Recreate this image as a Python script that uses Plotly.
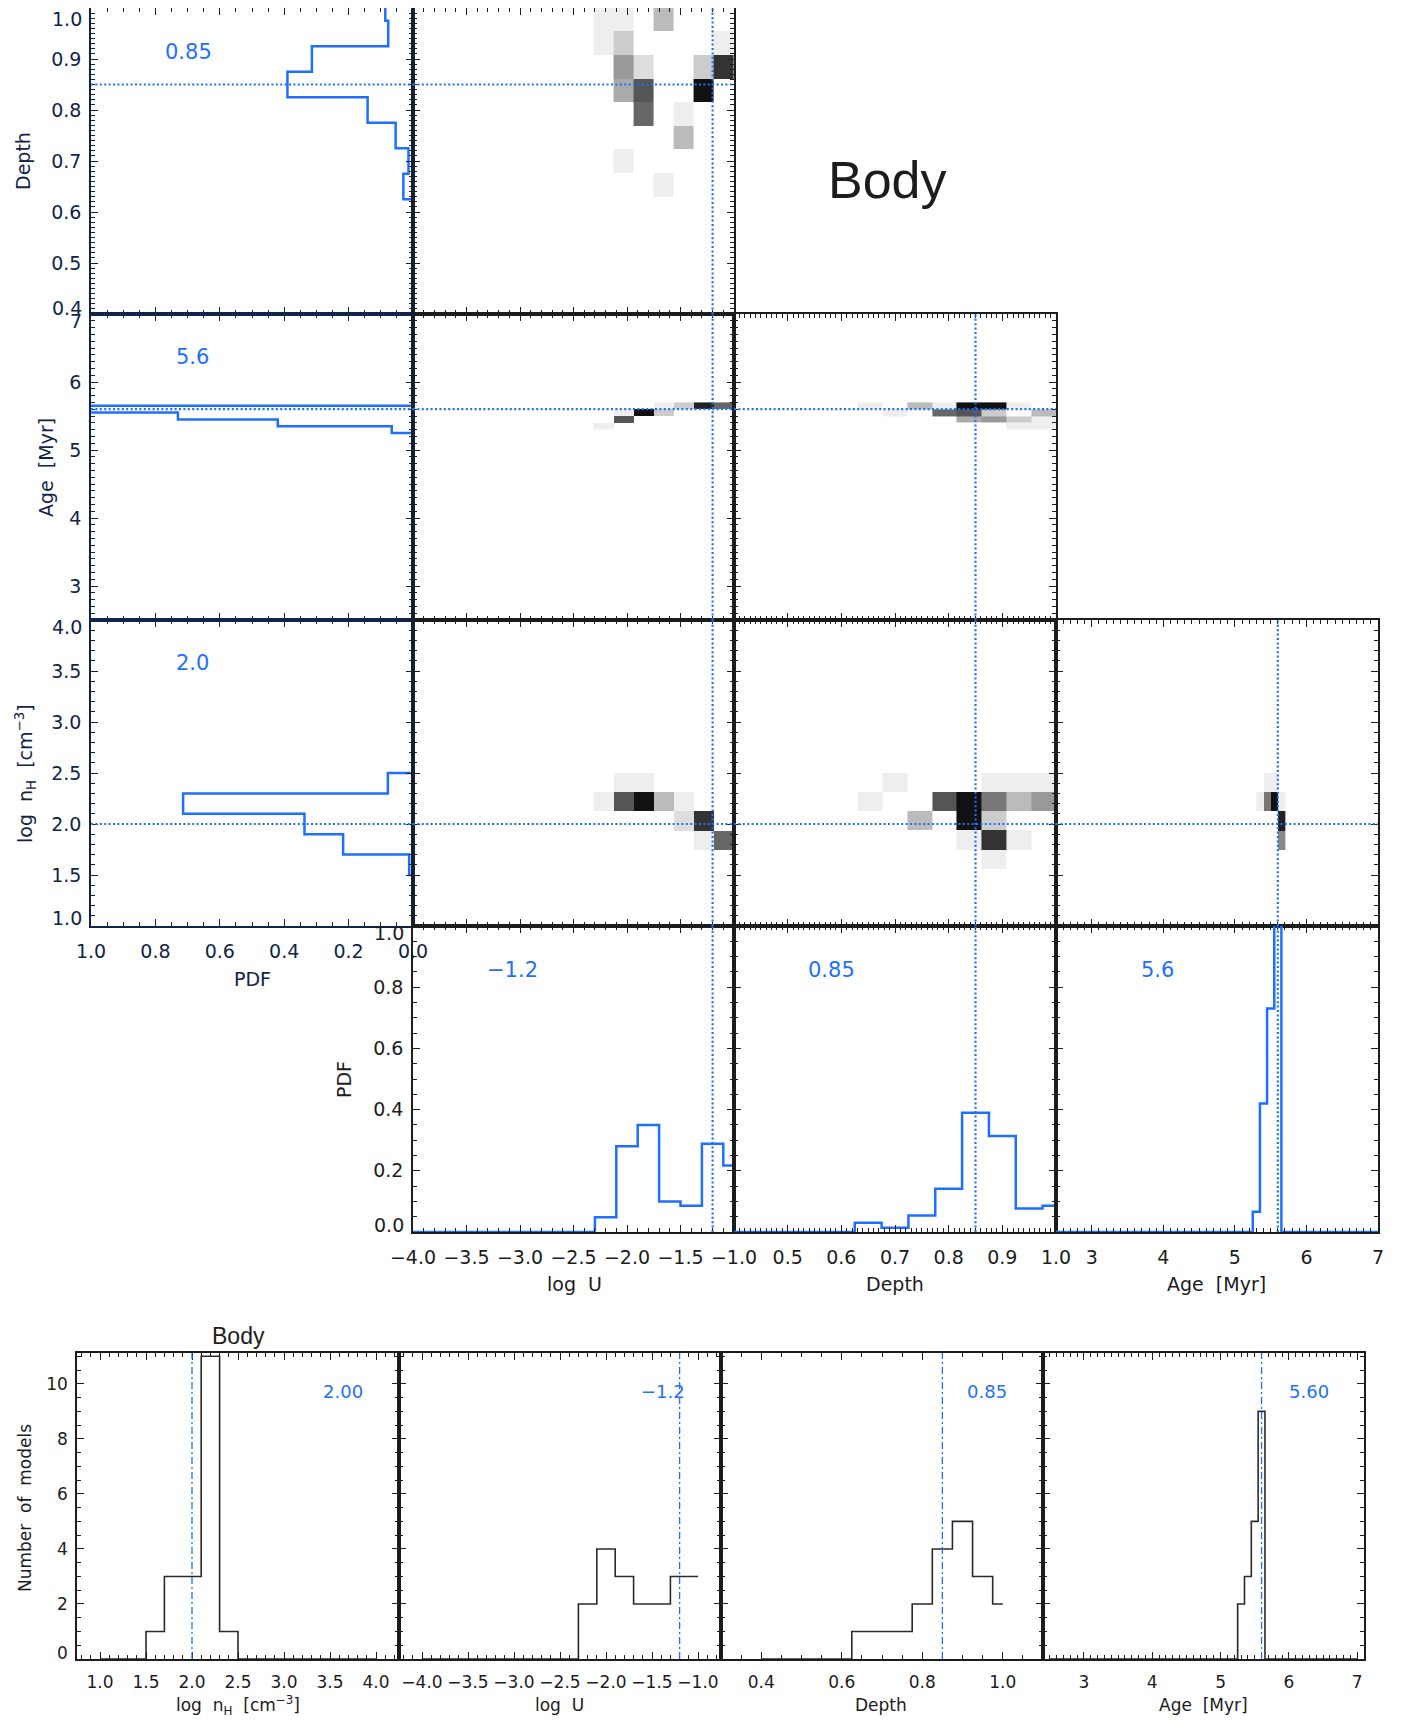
import plotly.graph_objects as go

W, H = 1402, 1722
OFF = 8  # the page body margin shifts the figure; positions below are page pixels

# ---------------- values ----------------
best_nh, best_logu, best_depth, best_age = 2.0, -1.2, 0.85, 5.6

# marginal PDFs: bin centres and values
depth_w, age_w, nh_w, logu_w = 0.05, 0.1, 0.2, 0.2
depth_pdf_c = [0.65, 0.70, 0.75, 0.80, 0.85, 0.90, 0.95, 1.00]
depth_pdf_v = [0.030, 0.014, 0.054, 0.141, 0.390, 0.314, 0.077, 0.086]
age_pdf_c = [5.3, 5.4, 5.5, 5.6]
age_pdf_v = [0.066, 0.420, 0.730, 1.300]          # last bin runs off the axis
nh_pdf_c = [1.6, 1.8, 2.0, 2.2, 2.4]
nh_pdf_v = [0.012, 0.217, 0.337, 0.714, 0.078]
logu_pdf_c = [-2.2, -2.0, -1.8, -1.6, -1.4, -1.2, -1.0]
logu_pdf_v = [0.048, 0.280, 0.350, 0.100, 0.086, 0.288, 0.217]

# number of models per bin
nh_cnt_c = [1.6, 1.8, 2.0, 2.2, 2.4]
nh_cnt = [1, 3, 3, 11, 1]
logu_cnt_c = [-2.2, -2.0, -1.8, -1.6, -1.4, -1.2, -1.0]
logu_cnt = [2, 4, 3, 2, 2, 3, 3]
depth_cnt_c = [0.65, 0.70, 0.75, 0.80, 0.85, 0.90, 0.95, 1.00]
depth_cnt = [1, 1, 1, 2, 4, 5, 3, 2]
age_cnt_c = [5.3, 5.4, 5.5, 5.6]
age_cnt = [2, 3, 5, 9]

# 2D histogram grids (cell edges) and grey levels (0 = white, 1 = black)
logu_edges = [-2.3125, -2.125, -1.9375, -1.75, -1.5625, -1.375, -1.1875, -1.0]
depth_edges = [0.63, 0.676, 0.723, 0.769, 0.815, 0.861, 0.908, 0.954, 1.0]
age_edges = [5.3, 5.4, 5.5, 5.6, 5.7]
nh_edges = [1.5625, 1.75, 1.9375, 2.125, 2.3125, 2.5]

depth_vs_logu = [
    [0, 0, 0, .067, 0, 0, 0],
    [0, .067, 0, 0, 0, 0, 0],
    [0, 0, 0, 0, .267, 0, 0],
    [0, 0, .6, 0, .067, 0, 0],
    [0, .333, .667, 0, 0, .933, 0],
    [0, .4, .133, 0, 0, .2, .8],
    [.067, .2, 0, 0, 0, 0, .067],
    [.067, .067, 0, .267, 0, 0, 0],
]
age_vs_logu = [
    [.067, 0, 0, 0, 0, 0, 0],
    [0, .667, 0, 0, 0, 0, 0],
    [0, .067, .933, .2, 0, 0, 0],
    [0, 0, 0, .067, .2, .867, .6],
]
age_vs_depth = [
    [0, 0, 0, 0, 0, 0, .067, .067],
    [0, 0, 0, 0, .333, .4, .2, .067],
    [0, .067, 0, .6, .667, .2, 0, .267],
    [.067, 0, .267, .067, .933, .933, .067, 0],
]
nh_vs_logu = [
    [0, 0, 0, 0, 0, 0, 0],
    [0, 0, 0, 0, 0, .067, .6],
    [0, 0, 0, 0, .133, .8, 0],
    [.067, .667, .933, .267, .067, 0, 0],
    [0, .067, .067, 0, 0, 0, 0],
]
nh_vs_depth = [
    [0, 0, 0, 0, 0, .067, 0, 0],
    [0, 0, 0, 0, .067, .8, .067, 0],
    [0, 0, .267, 0, .933, .2, 0, 0],
    [.067, 0, 0, .667, .933, .533, .267, .4],
    [0, .067, 0, 0, 0, .067, .067, .067],
]
nh_vs_age = [
    [0, 0, 0, 0],
    [0, 0, 0, .467],
    [0, 0, 0, .867],
    [.067, .533, .933, .067],
    [0, .067, .067, 0],
]

# ---------------- styling ----------------
FONT = "DejaVu Sans"
BLUE = "#1f6fff"
NAVY = "#102449"
INK = "#1c1c1c"

CX = [91, 413, 734, 1056, 1378]
RY = [8, 314, 620, 926, 1232]
BX = [77, 399, 721, 1043, 1364]
BY = [1353, 1659]

KINDS = {
    "pdfrev": dict(range=[1, 0], tick0=0, dtick=0.2, minor=0.05, fmt=".1f"),
    "pdf": dict(range=[0, 1], tick0=0, dtick=0.2, minor=0.05, fmt=".1f"),
    "depth": dict(range=[0.4, 1.0], tick0=0.4, dtick=0.1, minor=0.01, fmt=".1f"),
    "age": dict(range=[2.5, 7], tick0=3, dtick=1, minor=0.1, fmt="d"),
    "nh": dict(range=[1, 4], tick0=1, dtick=0.5, minor=0.1, fmt=".1f"),
    "logu": dict(range=[-4, -1], tick0=-4, dtick=0.5, minor=0.1, fmt=".1f"),
    "nh_b": dict(range=[0.75, 4.25], tick0=1, dtick=0.5, minor=0.1, fmt=".1f"),
    "logu_b": dict(range=[-4.25, -0.75], tick0=-4, dtick=0.5, minor=0.1, fmt=".1f"),
    "depth_b": dict(range=[0.3, 1.1], tick0=0.4, dtick=0.2, minor=0.05, fmt=".1f"),
    "age_b": dict(range=[2.4, 7.1], tick0=3, dtick=1, minor=0.1, fmt="d"),
    "cnt": dict(range=[0, 11.12], tick0=0, dtick=2, minor=0.5, fmt="d"),
}


def px_x(p):
    return (p - OFF) / W


def px_y(p):
    return 1 - (p - OFF) / H


def xa(i):
    return "x" if i == 1 else f"x{i}"


def ya(i):
    return "y" if i == 1 else f"y{i}"


def axis(kind, dom, anchor, show, color, fs, standoff, tickvals=None):
    k = KINDS[kind]
    d = dict(domain=dom, anchor=anchor, range=k["range"], autorange=False, automargin=False,
             tickmode="linear", tick0=k["tick0"], dtick=k["dtick"], tickformat=k["fmt"],
             ticks="inside", ticklen=7, tickwidth=1.3, tickcolor=color,
             minor=dict(ticks="inside", ticklen=4, tickwidth=1, tickcolor=color,
                        tick0=k["tick0"], dtick=k["minor"]),
             showline=True, linecolor=color, linewidth=1.6, mirror="ticks",
             showgrid=False, zeroline=False, showticklabels=show,
             tickfont=dict(family=FONT, size=fs, color=color),
             ticklabelstandoff=standoff)
    if tickvals is not None:
        d["tickmode"] = "array"
        d["tickvals"] = tickvals
    return d


def step(centres, values, width, lo, hi):
    xs, ys = [lo], [0.0]
    prev = 0.0
    b = lo
    for c, v in zip(centres, values):
        a, b = c - width / 2, c + width / 2
        xs += [a, a, min(b, hi)]
        ys += [prev, v, v]
        prev = v
    if b < hi:
        xs += [b, hi]
        ys += [0.0, 0.0]
    return xs, ys


fig = go.Figure()
layout = {}
shapes = []
annotations = []

# interior y tick labels (end labels are drawn nudged inwards, as in the original)
y_inner = {
    1: [0.5, 0.6, 0.7, 0.8, 0.9],
    3: [3, 4, 5, 6],
    6: [1.5, 2.0, 2.5, 3.0, 3.5],
    10: [0.2, 0.4, 0.6, 0.8],
    13: [2, 4, 6, 8, 10],
}

# panel definitions: idx, box(x0,x1,y0,y1 in px), xkind, ykind, show x labels, show y labels, colour
panels = [
    (1, (CX[0], CX[1], RY[0], RY[1]), "pdfrev", "depth", False, True, NAVY),
    (2, (CX[1], CX[2], RY[0], RY[1]), "logu", "depth", False, False, INK),
    (3, (CX[0], CX[1], RY[1], RY[2]), "pdfrev", "age", False, True, NAVY),
    (4, (CX[1], CX[2], RY[1], RY[2]), "logu", "age", False, False, INK),
    (5, (CX[2], CX[3], RY[1], RY[2]), "depth", "age", False, False, INK),
    (6, (CX[0], CX[1], RY[2], RY[3]), "pdfrev", "nh", True, True, NAVY),
    (7, (CX[1], CX[2], RY[2], RY[3]), "logu", "nh", False, False, INK),
    (8, (CX[2], CX[3], RY[2], RY[3]), "depth", "nh", False, False, INK),
    (9, (CX[3], CX[4], RY[2], RY[3]), "age", "nh", False, False, INK),
    (10, (CX[1], CX[2], RY[3], RY[4]), "logu", "pdf", True, True, INK),
    (11, (CX[2], CX[3], RY[3], RY[4]), "depth", "pdf", True, False, INK),
    (12, (CX[3], CX[4], RY[3], RY[4]), "age", "pdf", True, False, INK),
    (13, (BX[0], BX[1], BY[0], BY[1]), "nh_b", "cnt", True, True, INK),
    (14, (BX[1], BX[2], BY[0], BY[1]), "logu_b", "cnt", True, False, INK),
    (15, (BX[2], BX[3], BY[0], BY[1]), "depth_b", "cnt", True, False, INK),
    (16, (BX[3], BX[4], BY[0], BY[1]), "age_b", "cnt", True, False, INK),
]

for idx, (x0, x1, y0, y1), xk, yk, sx, sy, col in panels:
    fs = 17 if idx >= 13 else 19
    tv = [0.5, 0.6, 0.7, 0.8, 0.9, 1.0] if idx == 11 else None
    xkey = "xaxis" if idx == 1 else f"xaxis{idx}"
    ykey = "yaxis" if idx == 1 else f"yaxis{idx}"
    layout[xkey] = axis(xk, [px_x(x0), px_x(x1)], ya(idx), sx, col, fs, 7, tv)
    layout[ykey] = axis(yk, [px_y(y1), px_y(y0)], xa(idx), sy, col, fs, 4, y_inner.get(idx))


def heat(idx, xe, ye, z):
    zz = [[v if v > 0 else None for v in row] for row in z]
    fig.add_trace(go.Heatmap(x=xe, y=ye, z=zz, zmin=0, zmax=1,
                             colorscale=[[0, "#ffffff"], [1, "#000000"]],
                             showscale=False, hoverinfo="skip",
                             xaxis=xa(idx), yaxis=ya(idx)))


heat(2, logu_edges, depth_edges, depth_vs_logu)
heat(4, logu_edges, age_edges, age_vs_logu)
heat(5, depth_edges, age_edges, age_vs_depth)
heat(7, logu_edges, nh_edges, nh_vs_logu)
heat(8, depth_edges, nh_edges, nh_vs_depth)
heat(9, age_edges, nh_edges, nh_vs_age)


def line(idx, xs, ys, color, width):
    fig.add_trace(go.Scatter(x=xs, y=ys, mode="lines", line=dict(color=color, width=width),
                             xaxis=xa(idx), yaxis=ya(idx), hoverinfo="skip", showlegend=False))


# rotated marginal PDFs (left column)
p, v = step(depth_pdf_c, depth_pdf_v, depth_w, 0.4, 1.0)
line(1, v, p, BLUE, 2.5)
p, v = step(age_pdf_c, age_pdf_v, age_w, 2.5, 7.0)
line(3, v, p, BLUE, 2.5)
p, v = step(nh_pdf_c, nh_pdf_v, nh_w, 1.0, 4.0)
line(6, v, p, BLUE, 2.5)

# bottom row of the corner plot
xs, ys = step(logu_pdf_c, logu_pdf_v, logu_w, -4.0, -1.0)
line(10, xs, ys, BLUE, 2.5)
xs, ys = step(depth_pdf_c, depth_pdf_v, depth_w, 0.4, 1.0)
line(11, xs, ys, BLUE, 2.5)
xs, ys = step(age_pdf_c, age_pdf_v, age_w, 2.5, 7.0)
line(12, xs, ys, BLUE, 2.5)

# number-of-models histograms
xs, ys = step(nh_cnt_c, nh_cnt, nh_w, 1.0, 4.0)
line(13, xs, ys, "#2a2a2a", 1.6)
xs, ys = step(logu_cnt_c, logu_cnt, logu_w, -4.0, -1.0)
line(14, xs, ys, "#2a2a2a", 1.6)
xs, ys = step(depth_cnt_c, depth_cnt, depth_w, 0.4, 1.0)
line(15, xs, ys, "#2a2a2a", 1.6)
xs, ys = step(age_cnt_c, age_cnt, age_w, 2.5, 7.0)
line(16, xs, ys, "#2a2a2a", 1.6)

DOT = "2px,2.4px"


def vline(idx, x, dash=DOT, width=2.2):
    shapes.append(dict(type="line", xref=xa(idx), yref=f"{ya(idx)} domain", x0=x, x1=x, y0=0, y1=1,
                       line=dict(color=BLUE, width=width, dash=dash), layer="above"))


def hline(idx, y, dash=DOT, width=2.2):
    shapes.append(dict(type="line", yref=ya(idx), xref=f"{xa(idx)} domain", y0=y, y1=y, x0=0, x1=1,
                       line=dict(color=BLUE, width=width, dash=dash), layer="above"))


hline(1, best_depth)
hline(2, best_depth); vline(2, best_logu)
hline(3, best_age)
hline(4, best_age); vline(4, best_logu)
hline(5, best_age); vline(5, best_depth)
hline(6, best_nh)
hline(7, best_nh); vline(7, best_logu)
hline(8, best_nh); vline(8, best_depth)
hline(9, best_nh); vline(9, best_age)
vline(10, best_logu)
vline(11, best_depth)
vline(12, best_age)
DASHDOT = "7px,3px,2px,3px"
vline(13, best_nh, DASHDOT, 1.3)
vline(14, best_logu, DASHDOT, 1.3)
vline(15, best_depth, DASHDOT, 1.3)
vline(16, best_age, DASHDOT, 1.3)


def ann(text, px, py, size, color=INK, angle=0, family=FONT, xanchor="center"):
    annotations.append(dict(text=text, x=px_x(px), y=px_y(py), xref="paper", yref="paper",
                            showarrow=False, xanchor=xanchor, yanchor="middle", textangle=angle,
                            font=dict(family=family, size=size, color=color)))


NB = "\u00a0"
# best-fit value labels
ann(f"{best_depth:.2f}", 188, 52, 21, BLUE)
ann(f"{best_age:.1f}", 192, 357, 21, BLUE)
ann(f"{best_nh:.1f}", 192, 663, 21, BLUE)
ann(f"{best_logu:.1f}".replace("-", "\u2212"), 512, 970, 21, BLUE)
ann(f"{best_depth:.2f}", 831, 970, 21, BLUE)
ann(f"{best_age:.1f}", 1157, 970, 21, BLUE)
ann(f"{best_nh:.2f}", 343, 1391, 18, BLUE)
ann(f"{best_logu:.1f}".replace("-", "\u2212"), 663, 1391, 18, BLUE)
ann(f"{best_depth:.2f}", 987, 1391, 18, BLUE)
ann(f"{best_age:.2f}", 1309, 1391, 18, BLUE)

# end-of-axis y tick labels, nudged inside the panel height
ann("1.0", CX[0] - 7, RY[0] + 11, 19, NAVY, xanchor="right")
ann("0.4", CX[0] - 7, RY[1] - 6, 19, NAVY, xanchor="right")
ann("7", CX[0] - 7, RY[1] + 7, 19, NAVY, xanchor="right")
ann("4.0", CX[0] - 7, RY[2] + 7, 19, NAVY, xanchor="right")
ann("1.0", CX[0] - 7, RY[3] - 8, 19, NAVY, xanchor="right")
ann("1.0", CX[1] - 7, RY[3] + 7, 19, INK, xanchor="right")
ann("0.0", CX[1] - 7, RY[4] - 7, 19, INK, xanchor="right")
ann("0", BX[0] - 7, BY[1] - 6, 17, INK, xanchor="right")

# axis titles
ann("Depth", 23, 161, 19, NAVY, -90)
ann(f"Age{NB}{NB}[Myr]", 46, 468, 19, NAVY, -90)
ann(f"log{NB}{NB}n<sub>H</sub>{NB}{NB}[cm<sup>\u22123</sup>]", 25, 774, 19, NAVY, -90)
ann("PDF", 252, 979, 19, NAVY)
ann("PDF", 344, 1080, 19, INK, -90)
ann(f"log{NB}{NB}U", 574, 1284, 19)
ann("Depth", 895, 1284, 19)
ann(f"Age{NB}{NB}[Myr]", 1216, 1284, 19)

ann(f"log{NB}{NB}n<sub>H</sub>{NB}{NB}[cm<sup>\u22123</sup>]", 238, 1705, 17)
ann(f"log{NB}{NB}U", 559, 1705, 17)
ann("Depth", 881, 1705, 17)
ann(f"Age{NB}{NB}[Myr]", 1203, 1705, 17)
ann(f"Number{NB}{NB}of{NB}{NB}models", 25, 1508, 17, INK, -90)

ann("Body", 238, 1336, 23, INK, 0, "Liberation Sans")
ann("Body", 887, 180, 52, INK, 0, "Liberation Sans")

fig.update_layout(width=W, height=H, margin=dict(l=0, r=0, t=0, b=0, autoexpand=False),
                  paper_bgcolor="white", plot_bgcolor="white", showlegend=False,
                  shapes=shapes, annotations=annotations, **layout)

fig.write_html("out.html")
